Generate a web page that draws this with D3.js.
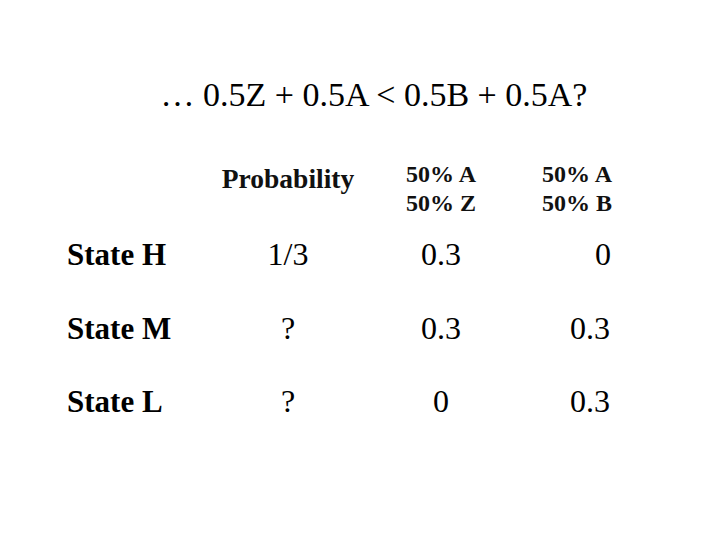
<!DOCTYPE html>
<html><head><meta charset="utf-8">
<script src="https://cdn.jsdelivr.net/npm/d3@7"></script>
<style>body{margin:0;background:#fff}</style></head>
<body><script>
const title = "… 0.5Z + 0.5A < 0.5B + 0.5A?";
const columns = ["Probability", "50% A\n50% Z", "50% A\n50% B"];
const states = ["State H", "State M", "State L"];
const probability = ["1/3", "?", "?"];
const lotteryAZ = ["0.3", "0.3", "0"];
const lotteryAB = ["0", "0.3", "0.3"];
const cells = [probability, lotteryAZ, lotteryAB];

const svg = d3.select("body").append("svg").attr("width",720).attr("height",540)
  .style("font-family","'Liberation Serif', serif");
svg.append("text").attr("x",374).attr("y",106).attr("text-anchor","middle")
  .attr("font-size",34).text(title);

const colX = i => [288, 441, 577][i];
const valX = i => [288, 441, 590][i];
const y = d3.scalePoint().domain(states).range([265,412]);

columns.forEach((c,i)=>{
  const lines = c.split("\n");
  const t = svg.append("text").attr("text-anchor","middle").attr("font-weight","bold")
    .attr("font-size", lines.length>1?24:27.5).attr("fill","#111");
  lines.forEach((l,k)=>t.append("tspan").attr("x",colX(i))
    .attr("y", lines.length>1 ? 182+k*29 : 188).text(l));
});

states.forEach((s,r)=>{
  svg.append("text").attr("x",67).attr("y",y(s)).attr("font-weight","bold")
    .attr("font-size",31).text(s);
  cells.forEach((col,i)=>{
    let cx = valX(i);
    if(i===2 && col[r]==="0") cx = 603;
    svg.append("text").attr("x",cx).attr("y",y(s)).attr("text-anchor","middle")
      .attr("font-size",32).text(col[r]);
  });
});
</script></body></html>
